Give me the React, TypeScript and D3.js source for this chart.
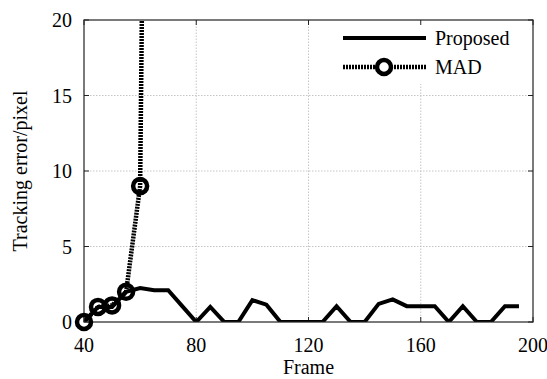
import { useEffect, useRef } from "react";
import * as d3 from "d3";

// frames sampled every 5 frames
const madFrames = [40, 45, 50, 55, 60, 65];
const madValues = [0, 1, 1.1, 2, 9, 100];

const proposedFrames = [
  40, 45, 50, 55, 60, 65, 70, 75, 80, 85, 90, 95, 100, 105, 110, 115, 120,
  125, 130, 135, 140, 145, 150, 155, 160, 165, 170, 175, 180, 185, 190, 195,
];
const proposedValues = [
  0, 1, 1, 2, 2.25, 2.1, 2.1, 1.05, 0, 1, 0, 0, 1.45, 1.15, 0, 0, 0,
  0, 1.05, 0, 0, 1.2, 1.5, 1.05, 1.05, 1.05, 0, 1.05, 0, 0, 1.05, 1.05,
];

const xTicks = [40, 80, 120, 160, 200];
const yTicks = [0, 5, 10, 15, 20];

const W = 547;
const H = 379;
const margin = { top: 20, right: 14, bottom: 57, left: 84 };
const font = "'Liberation Serif', 'Times New Roman', serif";

export default function App() {
  const ref = useRef<SVGSVGElement>(null);

  useEffect(() => {
    const svg = d3.select(ref.current);
    svg.selectAll("*").remove();

    const x = d3.scaleLinear().domain([40, 200]).range([margin.left, W - margin.right]);
    const y = d3.scaleLinear().domain([0, 20]).range([H - margin.bottom, margin.top]);
    const [x0, x1] = x.range();
    const [y0, y1] = y.range();

    svg.append("defs").append("clipPath").attr("id", "plot-clip")
      .append("rect")
      .attr("x", x0).attr("y", y1)
      .attr("width", x1 - x0).attr("height", y0 - y1);

    // grid lines
    const grid = svg.append("g").attr("stroke", "#b8b8b8").attr("stroke-width", 0.8)
      .attr("stroke-dasharray", "1.5,1.5");
    grid.selectAll(".gx").data(xTicks.slice(1, -1)).join("line")
      .attr("x1", d => x(d)).attr("x2", d => x(d)).attr("y1", y0).attr("y2", y1);
    grid.selectAll(".gy").data(yTicks.slice(1, -1)).join("line")
      .attr("x1", x0).attr("x2", x1).attr("y1", d => y(d)).attr("y2", d => y(d));

    // legend background covers grid
    svg.append("rect").attr("x", 336).attr("y", y1 + 1).attr("width", x1 - 337).attr("height", 63)
      .attr("fill", "white");

    // ticks (inward, all four sides)
    const ticks = svg.append("g").attr("stroke", "#222").attr("stroke-width", 1);
    xTicks.forEach(t => {
      ticks.append("line").attr("x1", x(t)).attr("x2", x(t)).attr("y1", y0).attr("y2", y0 - 5);
      ticks.append("line").attr("x1", x(t)).attr("x2", x(t)).attr("y1", y1).attr("y2", y1 + 5);
    });
    yTicks.forEach(t => {
      ticks.append("line").attr("x1", x0).attr("x2", x0 + 5).attr("y1", y(t)).attr("y2", y(t));
      ticks.append("line").attr("x1", x1).attr("x2", x1 - 5).attr("y1", y(t)).attr("y2", y(t));
    });

    const plot = svg.append("g").attr("clip-path", "url(#plot-clip)");
    const line = d3.line<[number, number]>().x(d => x(d[0])).y(d => y(d[1]));

    const propData = proposedFrames.map((f, i) => [f, proposedValues[i]] as [number, number]);
    const madData = madFrames.map((f, i) => [f, madValues[i]] as [number, number]);

    plot.append("path").attr("d", line(propData)!)
      .attr("fill", "none").attr("stroke", "black").attr("stroke-width", 4)
      .attr("stroke-linejoin", "miter");

    plot.append("path").attr("d", line(madData)!)
      .attr("fill", "none").attr("stroke", "black").attr("stroke-width", 4.5)
      .attr("stroke-dasharray", "2,1");

    // frame box
    svg.append("rect").attr("x", x0).attr("y", y1).attr("width", x1 - x0).attr("height", y0 - y1)
      .attr("fill", "none").attr("stroke", "#222").attr("stroke-width", 1.2);

    svg.append("g").selectAll("circle").data(madData.filter(d => d[1] <= 20)).join("circle")
      .attr("cx", d => x(d[0])).attr("cy", d => y(d[1])).attr("r", 7)
      .attr("fill", "none").attr("stroke", "black").attr("stroke-width", 4.5);

    // tick labels
    svg.append("g").selectAll("text").data(xTicks).join("text")
      .attr("x", d => x(d)).attr("y", y0 + 30)
      .attr("text-anchor", "middle").attr("font-family", font).attr("font-size", 20)
      .text(d => d);
    svg.append("g").selectAll("text").data(yTicks).join("text")
      .attr("x", x0 - 12).attr("y", d => y(d)).attr("dy", "0.35em")
      .attr("text-anchor", "end").attr("font-family", font).attr("font-size", 20)
      .text(d => d);

    svg.append("text").attr("x", (x0 + x1) / 2).attr("y", H - 5)
      .attr("text-anchor", "middle").attr("font-family", font).attr("font-size", 20)
      .text("Frame");
    svg.append("text")
      .attr("transform", `translate(27,${(y0 + y1) / 2}) rotate(-90)`)
      .attr("text-anchor", "middle").attr("font-family", font).attr("font-size", 20)
      .text("Tracking error/pixel");

    // legend
    const lg = svg.append("g");
    lg.append("line").attr("x1", 343).attr("x2", 426).attr("y1", 38).attr("y2", 38)
      .attr("stroke", "black").attr("stroke-width", 4);
    lg.append("text").attr("x", 435).attr("y", 45).attr("font-family", font).attr("font-size", 20)
      .text("Proposed");
    lg.append("line").attr("x1", 343).attr("x2", 426).attr("y1", 67).attr("y2", 67)
      .attr("stroke", "black").attr("stroke-width", 4.5).attr("stroke-dasharray", "2,1");
    lg.append("circle").attr("cx", 384).attr("cy", 67).attr("r", 7)
      .attr("fill", "white").attr("stroke", "black").attr("stroke-width", 4.5);
    lg.append("text").attr("x", 435).attr("y", 74).attr("font-family", font).attr("font-size", 20)
      .text("MAD");
  }, []);

  return (
    <svg ref={ref} width={W} height={H}
      style={{ position: "absolute", left: 0, top: 0, background: "white" }} />
  );
}
